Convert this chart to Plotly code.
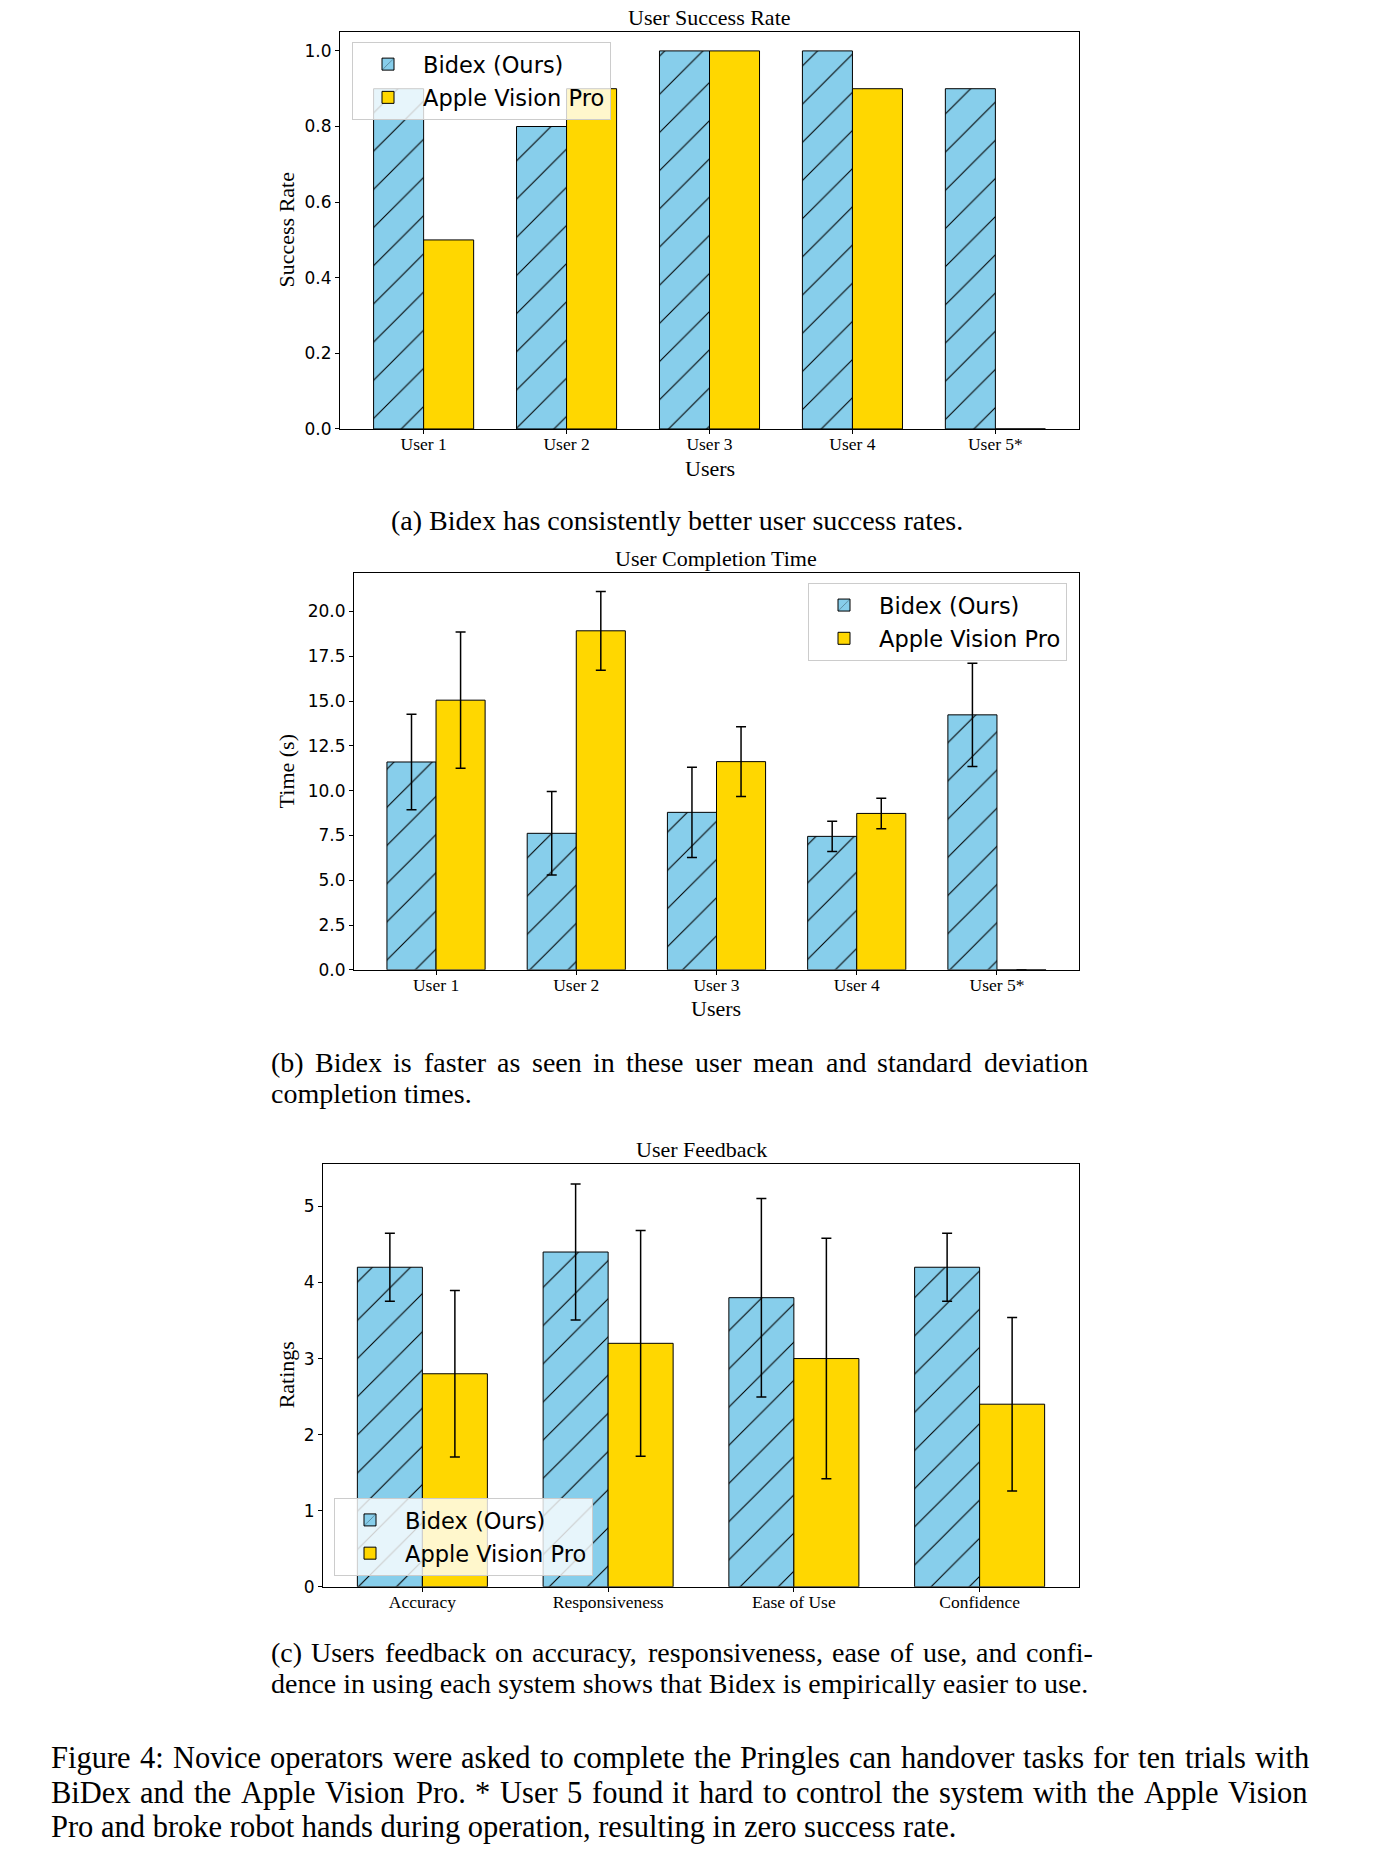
import plotly.graph_objects as go

# ---------------- data ----------------
users = ["User 1", "User 2", "User 3", "User 4", "User 5*"]
success_bidex = [0.9, 0.8, 1.0, 1.0, 0.9]
success_avp = [0.5, 0.9, 1.0, 0.9, 0.0]

time_bidex = [11.6, 7.62, 8.79, 7.45, 14.23]
time_bidex_std = [2.66, 2.33, 2.52, 0.84, 2.88]
time_avp = [15.05, 18.92, 11.62, 8.73, 0.0]
time_avp_std = [3.80, 2.20, 1.94, 0.85, 0.0]

feedback_cats = ["Accuracy", "Responsiveness", "Ease of Use", "Confidence"]
fb_bidex = [4.2, 4.4, 3.8, 4.2]
fb_bidex_std = [0.447, 0.894, 1.304, 0.447]
fb_avp = [2.8, 3.2, 3.0, 2.4]
fb_avp_std = [1.095, 1.483, 1.581, 1.140]

series_names = ["Bidex (Ours)", "Apple Vision Pro"]

# ---------------- style ----------------
W, H = 1376, 1876
BLUE = "#87CEEB"
GOLD = "#FFD700"
SERIF = "Liberation Serif, Times New Roman, serif"
SANS = "DejaVu Sans, sans-serif"


def fx(px):
    return px / W


def fy(py):
    # small empirical vertical correction
    return 1 - ((py + 1) / 0.9948) / H


hatch = dict(shape="/", fgcolor="black", bgcolor=BLUE, size=27,
             solidity=0.04, fillmode="replace")

fig = go.Figure()


def add_pair(xvals, b, a, bstd, astd, xa, ya, leg):
    kw_b, kw_a = {}, {}
    if bstd is not None:
        kw_b["error_y"] = dict(type="data", array=bstd, color="black", thickness=1.5, width=5)
    if astd is not None:
        kw_a["error_y"] = dict(type="data", array=astd, color="black", thickness=1.5, width=5)
    fig.add_trace(go.Bar(
        x=xvals, y=b, name=series_names[0], xaxis=xa, yaxis=ya, legend=leg,
        legendgroup=leg + "b",
        marker=dict(color=BLUE, line=dict(color="black", width=1), pattern=hatch),
        **kw_b,
    ))
    fig.add_trace(go.Bar(
        x=xvals, y=a, name=series_names[1], xaxis=xa, yaxis=ya, legend=leg,
        legendgroup=leg + "a",
        marker=dict(color=GOLD, line=dict(color="black", width=1)),
        **kw_a,
    ))


idx5 = list(range(len(users)))
idx4 = list(range(len(feedback_cats)))

add_pair(idx5, success_bidex, success_avp, None, None, "x", "y", "legend")
add_pair(idx5, time_bidex, time_avp, time_bidex_std, time_avp_std, "x2", "y2", "legend2")
add_pair(idx4, fb_bidex, fb_avp, fb_bidex_std, fb_avp_std, "x3", "y3", "legend3")

# plot areas (pixel boxes: left, right, top, bottom)
boxes = {
    1: (340, 1079, 31, 428),
    2: (354, 1079, 572, 969),
    3: (323, 1079, 1163, 1586),
}

axis_common = dict(showline=True, mirror=True, linecolor="black", linewidth=1,
                   showgrid=False, zeroline=False, ticks="outside", ticklen=4,
                   tickcolor="black")

layout = dict(
    width=W, height=H, margin=dict(l=0, r=0, t=0, b=0),
    paper_bgcolor="white", plot_bgcolor="white",
    barmode="group", bargap=0.3, bargroupgap=0.0,
    showlegend=True,
)

xranges = {1: [-0.585, 4.585], 2: [-0.585, 4.585], 3: [-0.535, 3.535]}
yranges = {1: [0, 1.05], 2: [0, 22.15], 3: [0, 5.559]}
ydt = {1: 0.2, 2: 2.5, 3: 1}
yfmt = {1: ".1f", 2: ".1f", 3: "d"}
xticks = {1: (idx5, users), 2: (idx5, users), 3: (idx4, feedback_cats)}

for k in (1, 2, 3):
    l, r, t, b = boxes[k]
    sx = "" if k == 1 else str(k)
    layout["xaxis" + sx] = dict(
        axis_common, domain=[fx(l), fx(r)], range=xranges[k],
        anchor="y" + sx, tickmode="array", tickvals=xticks[k][0],
        ticktext=xticks[k][1], ticklabelstandoff=-5,
        tickfont=dict(family=SERIF, size=17.5, color="black"),
    )
    layout["yaxis" + sx] = dict(
        axis_common, domain=[fy(b), fy(t)], range=yranges[k],
        anchor="x" + sx, dtick=ydt[k], tick0=0, tickformat=yfmt[k],
        tickfont=dict(family=SANS, size=17, color="black"),
    )

leg_common = dict(
    bgcolor="rgba(255,255,255,0.8)", bordercolor="#cccccc", borderwidth=1,
    font=dict(family=SANS, size=22.5, color="black"),
    traceorder="grouped", tracegroupgap=1, itemwidth=60,
)
layout["legend"] = dict(leg_common, x=fx(352), y=fy(41), xanchor="left", yanchor="top")
layout["legend2"] = dict(leg_common, x=fx(1067), y=fy(582), xanchor="right", yanchor="top")
layout["legend3"] = dict(leg_common, x=fx(334), y=fy(1575), xanchor="left", yanchor="bottom")

fig.update_layout(**layout)


def text(s, x, y, size, xanchor="center", angle=0, family=SERIF):
    fig.add_annotation(
        text=s, x=fx(x), y=fy(y), xref="paper", yref="paper",
        xanchor=xanchor, yanchor="middle", showarrow=False, textangle=angle,
        font=dict(family=family, size=size, color="black"),
    )


# Times New Roman advance widths (1/1000 em) for justification
TW = {" ": 250, "!": 333, "(": 333, ")": 333, "*": 500, ",": 250, "-": 333,
      ".": 250, ":": 278, ";": 278, "?": 444}
for ch in "0123456789":
    TW[ch] = 500
TW.update(dict(zip("ABCDEFGHIJKLMNOPQRSTUVWXYZ",
                   [722, 667, 667, 722, 611, 556, 722, 722, 333, 389, 722, 611, 889,
                    722, 722, 556, 722, 667, 556, 611, 722, 722, 944, 722, 722, 611])))
TW.update(dict(zip("abcdefghijklmnopqrstuvwxyz",
                   [444, 500, 444, 500, 444, 333, 500, 500, 278, 278, 500, 278, 778,
                    500, 500, 500, 500, 333, 389, 278, 500, 500, 722, 500, 500, 444])))


def tw(s, size):
    return sum(TW.get(c, 500) for c in s) * size / 1000.0


def justified(s, x0, x1, y, size):
    words = s.split(" ")
    total = sum(tw(w, size) for w in words)
    gap = (x1 - x0 - total) / (len(words) - 1)
    x = x0
    for w in words:
        text(w, x, y, size, xanchor="left")
        x += tw(w, size) + gap


# chart titles
text("User Success Rate", 709.5, 17, 22)
text("User Completion Time", 716.5, 557.5, 22)
text("User Feedback", 701, 1149, 22)

# axis titles
text("Success Rate", 286, 229.5, 22, angle=-90)
text("Users", 709.5, 468, 22)
text("Time (s)", 286, 770.5, 22, angle=-90)
text("Users", 716.5, 1008, 22)
text("Ratings", 286, 1374.5, 22, angle=-90)

# sub-captions
CAP = 28
text("(a) Bidex has consistently better user success rates.", 677, 520, CAP)
justified("(b) Bidex is faster as seen in these user mean and standard deviation", 269, 1086, 1062, CAP)
text("completion times.", 269, 1093, CAP, xanchor="left")
justified("(c) Users feedback on accuracy, responsiveness, ease of use, and confi-", 269, 1091, 1652, CAP)
text("dence in using each system shows that Bidex is empirically easier to use.", 269, 1683, CAP, xanchor="left")

# figure caption
FC = 30.5
justified("Figure 4: Novice operators were asked to complete the Pringles can handover tasks for ten trials with", 49, 1307, 1757, FC)
justified("BiDex and the Apple Vision Pro. * User 5 found it hard to control the system with the Apple Vision", 49, 1307, 1792, FC)
text("Pro and broke robot hands during operation, resulting in zero success rate.", 49, 1826, FC, xanchor="left")

fig.write_html("out.html", config={"displayModeBar": False},
               post_script="document.body.style.margin='0';")
